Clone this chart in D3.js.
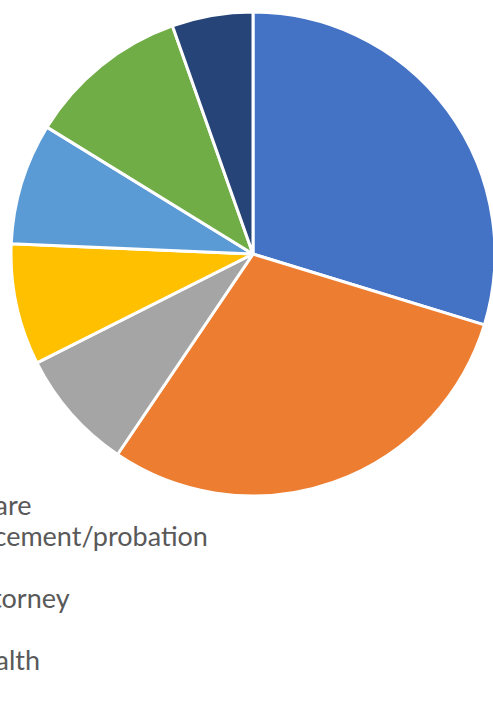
<!DOCTYPE html>
<html>
<head>
<meta charset="utf-8">
<script src="https://cdn.jsdelivr.net/npm/d3@7"></script>
<style>
  html, body { margin: 0; padding: 0; background: #fff; overflow: hidden; }
</style>
</head>
<body>
<svg width="493" height="703"></svg>
<script>
// categories, in the order they go round the pie (clockwise from 12 o'clock)
var categories = ["Child welfare", "Law enforcement/probation", "Court", "District attorney", "School", "Mental health", "Other"];
// number of referrals in each
var values = [11, 11, 3, 3, 3, 4, 2];
var colors = ["#4472C4", "#ED7D31", "#A5A5A5", "#FFC000", "#5B9BD5", "#70AD47", "#264478"];

var svg = d3.select("svg"),
    width = +svg.attr("width"),
    height = +svg.attr("height");

var cx = 253, cy = 254, radius = 242;

var data = categories.map(function (c, i) {
    return {label: c, value: values[i], color: colors[i]};
});

var pie = d3.pie()
        .sort(null)
        .value(function (d) { return d.value; });

var arc = d3.arc()
        .innerRadius(0)
        .outerRadius(radius);

var pie_g = svg.append("g")
        .attr("transform", "translate(" + cx + "," + cy + ")");

pie_g.selectAll("path")
        .data(pie(data))
        .enter()
        .append("path")
        .attr("d", arc)
        .attr("fill", function (d) { return d.data.color; })
        .attr("stroke", "#fff")
        .attr("stroke-width", 3)
        .attr("stroke-linejoin", "round");

// legend - the left part hangs off the edge of the picture
var legendX = -124, legendY = 515, rowH = 31;

var legend = svg.append("g")
        .attr("transform", "translate(" + legendX + "," + legendY + ")");

var rows = legend.selectAll("g")
        .data(data)
        .enter()
        .append("g")
        .attr("transform", function (d, i) { return "translate(0," + (i * rowH) + ")"; });

rows.append("rect")
        .attr("x", -26)
        .attr("y", -14)
        .attr("width", 14)
        .attr("height", 14)
        .attr("fill", function (d) { return d.color; });

rows.append("text")
        .text(function (d) { return d.label; })
        .attr("x", 0)
        .attr("y", 0)
        .attr("font-family", "Lato, 'Open Sans', sans-serif")
        .attr("font-size", "27px")
        .attr("fill", "#595959");
</script>
</body>
</html>
